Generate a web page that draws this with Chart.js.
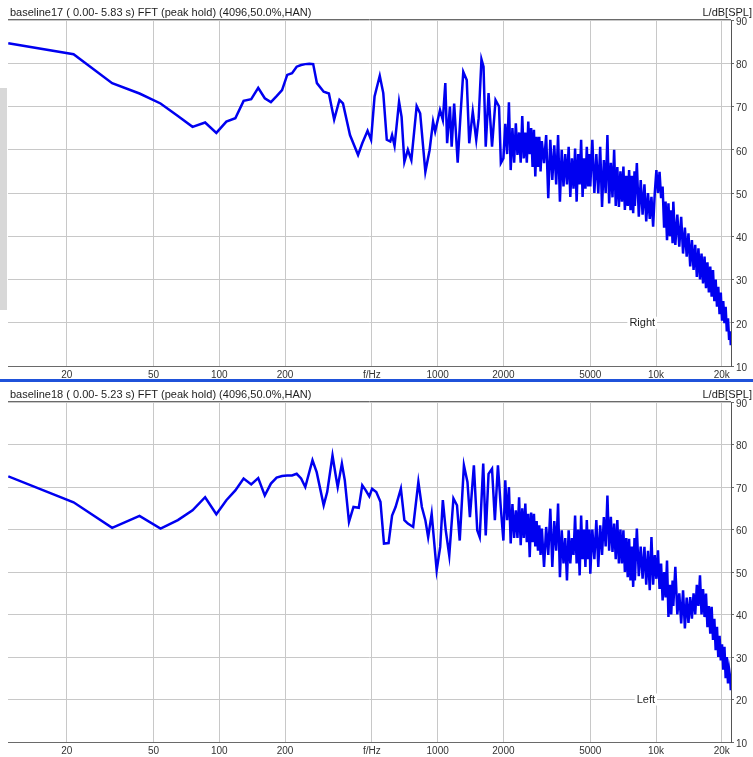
<!DOCTYPE html>
<html>
<head>
<meta charset="utf-8">
<title>FFT peak hold</title>
<script src="https://cdn.jsdelivr.net/npm/chart.js@4.4.1/dist/chart.umd.min.js"></script>
<style>
  html, body { margin: 0; padding: 0; background: #fff; }
  body { width: 753px; height: 757px; position: relative; overflow: hidden; }
  canvas { position: absolute; left: 0; display: block; }
  #topPanel { top: 0; }
  #bottomPanel { top: 383px; }
  .divider { position: absolute; left: 0; top: 379px; width: 753px; height: 3px; background: #1f52da; }
  .edge { position: absolute; left: 0; top: 88px; width: 7px; height: 222px; background: #d8d8d8; }
</style>
</head>
<body>
<canvas id="topPanel" width="753" height="380"></canvas>
<div class="edge"></div>
<div class="divider"></div>
<canvas id="bottomPanel" width="753" height="374"></canvas>
<script>
// Frequency axis ticks and their labels
const freqTicks = [20, 50, 100, 200, 500, 1000, 2000, 5000, 10000, 20000];
const freqTickLabels = ['20', '50', '100', '200', 'f/Hz', '1000', '2000', '5000', '10k', '20k'];

// Upper band frequencies shared by both channels (Hz)
const bandHz = [
  2000, 2040, 2080, 2120, 2160, 2200, 2240, 2280, 2320, 2360, 2400, 2440, 2480, 2520,
  2560, 2600, 2640, 2680, 2720, 2760, 2800, 2840, 2880, 2920, 2960,
  3000, 3070, 3140, 3210, 3280, 3350, 3420, 3490, 3560, 3630, 3700, 3770, 3840, 3910,
  3980, 4050, 4120, 4190, 4260, 4330, 4400, 4470, 4540, 4610, 4680, 4750, 4820, 4890, 4960,
  5000, 5110, 5220, 5330, 5440, 5550, 5660, 5770, 5880, 5990, 6100, 6210, 6320, 6430,
  6540, 6650, 6760, 6870, 6980, 7090, 7200, 7310, 7420, 7530, 7640, 7750, 7860, 7970,
  8000, 8170, 8340, 8510, 8680, 8850, 9020, 9190, 9360, 9530, 9700, 9870, 10040, 10210,
  10380, 10550, 10720, 10890, 11060, 11230, 11400, 11570, 11740, 11910,
  12000, 12260, 12520, 12780, 13040, 13300, 13560, 13820, 14080, 14340, 14600, 14860,
  15120, 15380, 15640, 15900, 16160, 16420, 16680, 16940, 17200, 17460, 17720, 17980,
  18240, 18500, 18760, 19020, 19280, 19540, 19800, 20060, 20320, 20580, 20840, 21100,
  21360, 21620, 21880, 22000
];

// Right channel, peak-hold spectrum (Hz / dB SPL) below 2 kHz
const rightLowHz = [
  10.8, 21.5, 32.3, 43.1, 53.8, 64.6, 75.4, 86.1, 96.9, 107.7, 118.4, 129.2, 140.0,
  150.7, 161.5, 172.3, 183.0, 193.8, 204.6, 215.3, 226.1, 236.9, 247.6, 258.4, 269.1, 279.9,
  300.6, 317.6, 335.7, 355.0, 368.4, 396.7, 432.0, 451.5, 477.5, 495.5, 514.0, 543.0, 563.5,
  584.7, 606.6, 618.3, 634.7, 665.6, 683.5, 703.9, 730.3, 757.7, 801.3, 831.4, 878.3, 918.2,
  952.7, 973.9, 1025, 1056, 1084, 1105, 1138, 1159, 1190, 1235, 1271, 1310, 1359, 1395,
  1448, 1502, 1541, 1587, 1622, 1660, 1710, 1774, 1841, 1910, 1947
];
const rightLowDb = [
  84.6, 82.1, 75.4, 73.0, 70.7, 67.8, 65.3, 66.3, 63.9, 66.5, 67.3, 71.3, 71.7,
  74.3, 71.9, 71.0, 72.4, 73.8, 77.3, 77.7, 79.2, 79.6, 79.8, 79.9, 79.8, 75.4,
  73.4, 73.0, 67.0, 71.5, 70.7, 63.4, 58.8, 61.5, 64.4, 62.3, 72.3, 77.1, 73.1,
  62.3, 61.9, 63.4, 60.9, 71.1, 67.6, 57.2, 60.0, 57.6, 70.1, 68.4, 54.9, 59.9,
  66.5, 64.2, 69.2, 66.9, 75.4, 61.5, 70.0, 60.7, 70.7, 57.0, 67.6, 78.0, 76.1, 61.5,
  68.8, 62.3, 67.3, 80.9, 79.2, 60.7, 73.1, 60.7, 71.5, 70.0, 56.9
];
// Right channel above 2 kHz (dB SPL at bandHz)
const rightBandDb = [
  58.0, 66.0, 59.0, 71.0, 55.3, 65.0, 57.0, 66.1, 58.8, 64.0, 57.0, 67.8, 58.0, 64.0,
  57.0, 66.5, 59.0, 65.0, 56.0, 64.6, 53.8, 63.0, 56.0, 63.0, 55.0,
  62.0, 56.9, 63.4, 48.8, 62.3, 53.0, 61.0, 52.0, 63.4, 48.0, 60.0, 51.5, 59.0, 52.0,
  60.7, 49.1, 58.0, 51.0, 60.3, 48.0, 59.0, 52.0, 62.3, 49.1, 58.0, 51.0, 60.7, 51.5, 59.0,
  51.5, 62.3, 50.0, 59.0, 49.9, 60.7, 46.8, 57.6, 50.0, 63.4, 47.6, 57.0, 49.0, 60.0,
  47.0, 56.0, 46.8, 55.0, 48.0, 56.1, 46.1, 54.0, 47.0, 55.3, 46.0, 54.0, 45.3, 55.0,
  47.0, 56.9, 44.5, 53.0, 45.0, 52.0, 43.4, 50.0, 44.0, 49.1, 42.2, 50.0, 55.3, 50.0,
  54.9, 48.8, 51.5, 42.0, 48.0, 39.1, 47.6, 40.0, 46.0, 38.4,
  48.0, 38.0, 45.0, 37.6, 44.5, 36.0, 42.0, 35.3, 40.7, 33.0, 39.1, 32.2,
  38.0, 30.6, 37.2, 30.0, 36.0, 29.1, 35.3, 28.0, 34.0, 27.0, 33.0, 26.0,
  32.2, 25.0, 30.0, 23.7, 28.3, 22.0, 27.0, 20.5, 25.0, 19.9, 23.7, 18.0,
  21.0, 16.0, 18.0, 14.8
];

// Left channel, peak-hold spectrum (Hz / dB SPL) below 2 kHz
const leftLowHz = [
  10.8, 21.5, 32.3, 43.1, 53.8, 64.6, 75.4, 86.1, 96.9, 107.7, 118.4, 129.2, 140.0,
  150.7, 161.5, 172.3, 183.0, 193.8, 204.6, 215.3, 226.1, 236.9, 247.6,
  267.1, 279.2, 300.6, 311.9, 329.9, 342.3, 348.5, 364.2, 375.5, 392.5, 411.6, 435.2,
  451.5, 468.5, 486.2, 500.7, 523.4, 547.0, 567.7, 595.9, 618.3, 641.5, 678.5, 703.9,
  730.3, 772.3, 815.9, 846.5, 878.3, 904.6, 938.8, 989.5, 1027, 1056, 1089, 1130, 1181,
  1226, 1262, 1319, 1369, 1405, 1465, 1518, 1558, 1617, 1660, 1710, 1774, 1828, 1888, 1945
];
const leftLowDb = [
  72.5, 66.4, 60.4, 63.2, 60.2, 62.2, 64.5, 67.6, 63.6, 66.9, 69.2, 72.0, 70.6,
  72.1, 68.0, 70.8, 72.2, 72.6, 72.7, 72.7, 73.1, 72.0, 70.0,
  76.3, 73.5, 65.7, 68.8, 77.4, 72.3, 70.0, 75.5, 71.6, 61.8, 65.3, 65.1,
  70.4, 69.2, 67.8, 69.6, 68.8, 66.5, 56.7, 56.8, 63.3, 65.3, 69.6, 62.2,
  61.4, 60.6, 71.2, 65.3, 62.2, 58.2, 63.7, 50.4, 55.9, 66.9, 59.8, 53.9, 67.3,
  65.7, 57.4, 75.1, 71.2, 62.9, 75.1, 59.8, 58.2, 75.5, 58.6, 73.1, 74.3, 62.2, 75.1, 65.3
];
// Left channel above 2 kHz (dB SPL at bandHz)
const leftBandDb = [
  57.4, 71.6, 62.2, 70.0, 56.7, 66.0, 58.0, 64.5, 58.0, 67.6, 56.3, 65.0, 58.0, 66.1,
  57.0, 63.7, 53.5, 64.0, 57.0, 63.7, 56.0, 62.0, 55.0, 61.0, 54.0,
  60.2, 51.2, 60.6, 54.0, 64.9, 51.2, 62.0, 55.0, 66.1, 48.8, 59.8, 52.0, 58.0, 48.0,
  59.8, 52.0, 58.0, 54.0, 63.3, 52.0, 60.0, 49.2, 63.3, 53.0, 60.0, 51.2, 62.2, 53.0, 60.0,
  49.6, 60.0, 53.0, 62.2, 51.2, 61.0, 54.0, 62.9, 56.0, 68.0, 55.0, 63.0, 54.7, 61.4,
  53.0, 62.2, 52.0, 60.0, 52.0, 59.8, 50.0, 58.0, 48.8, 57.8, 48.0, 56.0, 46.5, 58.0,
  48.0, 60.2, 49.0, 56.0, 48.4, 55.9, 47.0, 55.0, 45.7, 58.2, 47.0, 54.0, 48.4, 55.1,
  46.0, 52.0, 43.3, 50.0, 44.0, 52.7, 39.4, 47.0, 40.0, 48.0,
  42.0, 51.2, 40.0, 45.0, 37.9, 45.7, 36.7, 44.0, 38.0, 44.1, 39.0, 45.0,
  40.0, 47.0, 42.0, 49.2, 40.0, 46.0, 39.4, 44.9, 37.0, 42.0, 35.5, 41.8,
  34.0, 39.0, 31.6, 37.1, 30.0, 35.0, 29.2, 33.0, 27.0, 32.4, 25.0, 30.0,
  23.8, 27.0, 25.0, 22.2
];

const FONT = '"Liberation Sans", Arial, sans-serif';

// Captions, unit label, frame line and channel tag
const panelText = {
  id: 'panelText',
  beforeDatasetsDraw(chart, args, opts) {
    const { ctx, chartArea: a, scales: { x, y } } = chart;
    ctx.save();
    ctx.strokeStyle = '#6a6a6a';
    ctx.lineWidth = 1;
    ctx.beginPath();
    ctx.moveTo(a.left, Math.round(a.top) - 0.5);
    ctx.lineTo(a.right, Math.round(a.top) - 0.5);
    ctx.stroke();

    ctx.font = '11px ' + FONT;
    ctx.fillStyle = '#1e1e1e';
    ctx.textBaseline = 'alphabetic';
    ctx.textAlign = 'left';
    ctx.fillText(opts.title, a.left + 2, a.top - 4);
    ctx.textAlign = 'right';
    ctx.fillText(opts.unit, chart.width - 1, a.top - 4);

    const tx = x.getPixelForValue(opts.tagHz);
    const ty = y.getPixelForValue(opts.tagDb);
    const w = ctx.measureText(opts.channel).width;
    ctx.fillStyle = '#fff';
    ctx.fillRect(tx - w - 2, ty - 6, w + 4, 12);
    ctx.fillStyle = '#1e1e1e';
    ctx.textBaseline = 'middle';
    ctx.fillText(opts.channel, tx, ty);
    ctx.restore();
  }
};

function spectrumChart(canvasId, hz, db, cfg) {
  return new Chart(document.getElementById(canvasId), {
    type: 'line',
    data: {
      datasets: [{
        data: hz.map((f, i) => ({ x: f, y: db[i] })),
        borderColor: '#0000f0',
        borderWidth: 2.5,
        pointRadius: 0,
        tension: 0,
        fill: false
      }]
    },
    options: {
      responsive: false,
      animation: false,
      devicePixelRatio: 1,
      parsing: false,
      normalized: true,
      layout: { padding: { left: 8, top: cfg.padTop, right: 0, bottom: 0 } },
      plugins: {
        legend: { display: false },
        tooltip: { enabled: false },
        panelText: {
          title: cfg.title,
          unit: 'L/dB[SPL]',
          channel: cfg.channel,
          tagHz: 9900,
          tagDb: 20
        }
      },
      scales: {
        x: {
          type: 'logarithmic',
          min: 10.77,
          max: 22050,
          afterFit: (s) => { s.height = cfg.xAxisHeight; },
          afterBuildTicks: (s) => { s.ticks = freqTicks.map(v => ({ value: v })); },
          ticks: {
            autoSkip: false,
            maxRotation: 0,
            padding: 3,
            color: '#333',
            font: { family: FONT, size: 10 },
            callback: (v) => {
              const i = freqTicks.indexOf(v);
              return i >= 0 ? freqTickLabels[i] : '';
            }
          },
          grid: { color: '#c8c8c8', lineWidth: 1, drawTicks: false },
          border: { color: '#6a6a6a', width: 1 }
        },
        y: {
          type: 'linear',
          position: 'right',
          min: 10,
          max: 90,
          afterFit: (s) => { s.width = 22; },
          ticks: {
            stepSize: 10,
            padding: 2,
            labelOffset: 2,
            color: '#333',
            font: { family: FONT, size: 10 }
          },
          grid: { color: '#c8c8c8', lineWidth: 1, drawTicks: true, tickLength: 3, tickColor: '#6a6a6a' },
          border: { color: '#555', width: 1 }
        }
      }
    },
    plugins: [panelText]
  });
}

spectrumChart('topPanel', rightLowHz.concat(bandHz), rightLowDb.concat(rightBandDb), {
  title: 'baseline17 ( 0.00- 5.83 s) FFT (peak hold) (4096,50.0%,HAN)',
  channel: 'Right',
  padTop: 20,
  xAxisHeight: 14
});

spectrumChart('bottomPanel', leftLowHz.concat(bandHz), leftLowDb.concat(leftBandDb), {
  title: 'baseline18 ( 0.00- 5.23 s) FFT (peak hold) (4096,50.0%,HAN)',
  channel: 'Left',
  padTop: 19,
  xAxisHeight: 15
});
</script>
</body>
</html>
